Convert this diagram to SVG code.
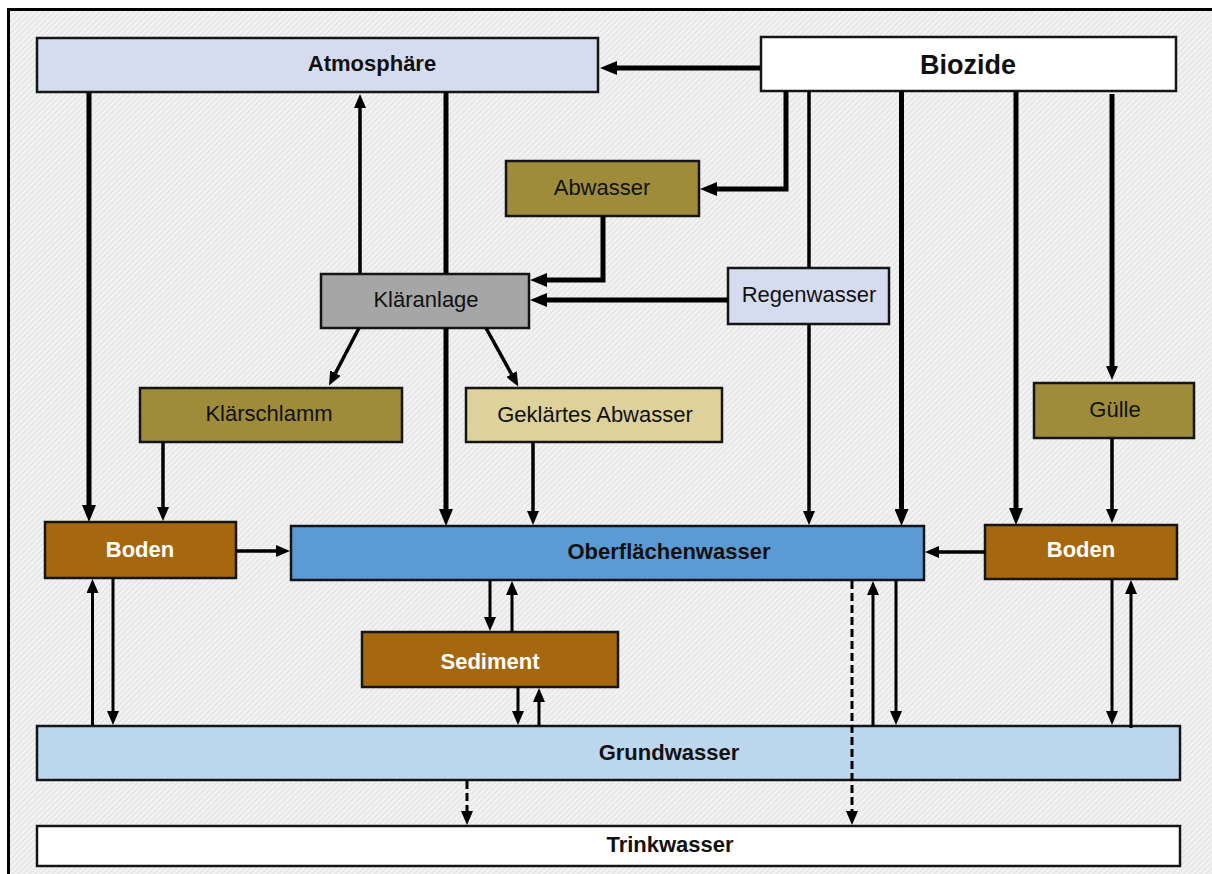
<svg xmlns="http://www.w3.org/2000/svg" width="1212" height="874" viewBox="0 0 1212 874">
<style>
.n{stroke:#151515;stroke-width:2.5}
.t{font-family:"Liberation Sans",Arial,sans-serif;font-size:22px;fill:#111;text-anchor:middle}
.b{font-weight:bold}
.w{fill:#fff}
.c{fill:none;stroke:#000}
.k{stroke-width:5}
.m{stroke-width:3.5}
.s{stroke-width:3}
.d{stroke-width:3;stroke-dasharray:8 4}
</style>
<defs>
<pattern id="hatch" width="4" height="4" patternUnits="userSpaceOnUse" patternTransform="rotate(-45)">
<rect width="4" height="4" fill="#e8e8e8"/><rect width="4" height="1.6" fill="#f6f6f6"/>
</pattern>
<marker id="a" markerUnits="userSpaceOnUse" markerWidth="14" markerHeight="12" viewBox="0 0 14 12" refX="1" refY="6" orient="auto"><path d="M0,0L14,6L0,12z" fill="#000"/></marker>
<marker id="L" markerUnits="userSpaceOnUse" markerWidth="17" markerHeight="14" viewBox="0 0 17 14" refX="1" refY="7" orient="auto"><path d="M0,0L17,7L0,14z" fill="#000"/></marker>
</defs>
<rect x="0" y="0" width="1212" height="874" fill="#fff"/>
<rect x="8.5" y="9.5" width="1230" height="890" fill="url(#hatch)" stroke="#000" stroke-width="3"/>

<g id="atmosphaere"><rect class="n" x="37" y="38" width="561" height="54" fill="#d6dcf0"/><text class="t b" x="372" y="71">Atmosphäre</text></g>
<g id="biozide"><rect class="n" x="761" y="37" width="415" height="54" fill="#fff"/><text class="t b" x="968" y="74" style="font-size:27px">Biozide</text></g>
<g id="abwasser"><rect class="n" x="506" y="161" width="193" height="55" fill="#9e8c3a"/><text class="t" x="602" y="195">Abwasser</text></g>
<g id="klaeranlage"><rect class="n" x="321" y="274" width="208" height="54" fill="#a6a6a6"/><text class="t" x="426" y="307">Kläranlage</text></g>
<g id="regenwasser"><rect class="n" x="728" y="268" width="161" height="56" fill="#d6dcf0"/><text class="t" x="809" y="302">Regenwasser</text></g>
<g id="klaerschlamm"><rect class="n" x="140" y="388" width="262" height="54" fill="#9e8c3a"/><text class="t" x="269" y="421">Klärschlamm</text></g>
<g id="geklaertes-abwasser"><rect class="n" x="466" y="388" width="256" height="54" fill="#ddd19c"/><text class="t" x="595" y="422">Geklärtes Abwasser</text></g>
<g id="guelle"><rect class="n" x="1034" y="383" width="160" height="55" fill="#9e8c3a"/><text class="t" x="1115" y="417">Gülle</text></g>
<g id="boden-links"><rect class="n" x="45" y="522" width="191" height="56" fill="#a5680f"/><text class="t b w" x="140" y="557">Boden</text></g>
<g id="oberflaechenwasser"><rect class="n" x="291" y="526" width="633" height="54" fill="#5b9bd5"/><text class="t b" x="669" y="559">Oberflächenwasser</text></g>
<g id="boden-rechts"><rect class="n" x="985" y="525" width="192" height="54" fill="#a5680f"/><text class="t b w" x="1081" y="557">Boden</text></g>
<g id="sediment"><rect class="n" x="362" y="632" width="256" height="55" fill="#a5680f"/><text class="t b w" x="490" y="669">Sediment</text></g>
<g id="grundwasser"><rect class="n" x="37" y="726" width="1143" height="54" fill="#bdd7ee"/><text class="t b" x="669" y="760">Grundwasser</text></g>
<g id="trinkwasser"><rect class="n" x="37" y="826" width="1143" height="40" fill="#fff"/><text class="t b" x="670" y="852">Trinkwasser</text></g>

<g id="connectors">
<path class="c k" d="M760,68H616" marker-end="url(#L)"/>
<path class="c k" d="M786,91V189H716" marker-end="url(#L)"/>
<path class="c k" d="M603,216V280H546" marker-end="url(#L)"/>
<path class="c k" d="M728,300H546" marker-end="url(#L)"/>
<path class="c k" d="M89,92V506" marker-end="url(#L)"/>
<path class="c k" d="M446,92V274"/>
<path class="c k" d="M446,328V510" marker-end="url(#L)"/>
<path class="c k" d="M901.5,91V510" marker-end="url(#L)"/>
<path class="c k" d="M1016,91V509" marker-end="url(#L)"/>
<path class="c m" d="M360,274V107" marker-end="url(#a)"/>
<path class="c m" d="M809,91V268"/>
<path class="c m" d="M809,324V512" marker-end="url(#a)"/>
<path class="c k" d="M1112,94V367" marker-end="url(#a)"/>
<path class="c m" d="M1112,438V510" marker-end="url(#a)"/>
<path class="c m" d="M163,443V508" marker-end="url(#a)"/>
<path class="c m" d="M533,443V512" marker-end="url(#a)"/>
<path class="c m" d="M359,328L335,374" marker-end="url(#a)"/>
<path class="c m" d="M486,328L512,375" marker-end="url(#a)"/>
<path class="c m" d="M236,551H277" marker-end="url(#a)"/>
<path class="c m" d="M985,552H938" marker-end="url(#a)"/>
<path class="c s" d="M92.5,726V592" marker-end="url(#a)"/>
<path class="c s" d="M113,578V712" marker-end="url(#a)"/>
<path class="c s" d="M490,580V618" marker-end="url(#a)"/>
<path class="c s" d="M512,632V594" marker-end="url(#a)"/>
<path class="c s" d="M518,687V712" marker-end="url(#a)"/>
<path class="c s" d="M539,726V701" marker-end="url(#a)"/>
<path class="c s" d="M873,726V594" marker-end="url(#a)"/>
<path class="c s" d="M896,580V712" marker-end="url(#a)"/>
<path class="c s" d="M1112,579V712" marker-end="url(#a)"/>
<path class="c s" d="M1131,728V593" marker-end="url(#a)"/>
<path class="c d" d="M852,581V812" marker-end="url(#a)"/>
<path class="c d" d="M467,781V812" marker-end="url(#a)"/>
</g>
</svg>
